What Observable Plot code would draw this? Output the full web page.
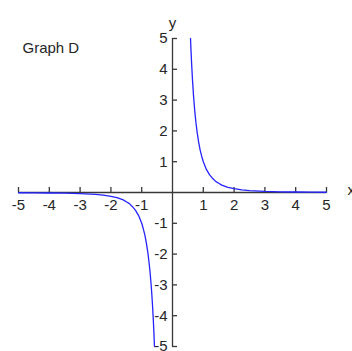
<!DOCTYPE html>
<html>
<head>
<meta charset="utf-8">
<script src="https://cdn.jsdelivr.net/npm/d3@7"></script>
<script src="https://cdn.jsdelivr.net/npm/@observablehq/plot@0.6"></script>
<style>
  body { margin: 0; background: #fff; }
</style>
</head>
<body>
<div id="chart"></div>
<script>
// Labels
const title = "Graph D";
const xName = "x";
const yName = "y";
const tickValues = [-5, -4, -3, -2, -1, 1, 2, 3, 4, 5];

// Right branch (x > 0)
const rightX = [0.585, 0.6, 0.62, 0.65, 0.68, 0.7, 0.73, 0.76, 0.8, 0.85, 0.9, 0.95, 1.0, 1.1, 1.2, 1.3, 1.4, 1.5, 1.6, 1.8, 2.0, 2.25, 2.5, 3.0, 3.5, 4.0, 4.5, 5.0];
const rightY = [5.0, 4.63, 4.2, 3.64, 3.18, 2.92, 2.57, 2.28, 1.95, 1.63, 1.37, 1.17, 1.0, 0.75, 0.58, 0.46, 0.36, 0.3, 0.24, 0.17, 0.125, 0.088, 0.064, 0.037, 0.023, 0.016, 0.011, 0.008];

// Left branch (x < 0)
const leftX = [-5.0, -4.5, -4.0, -3.5, -3.0, -2.5, -2.25, -2.0, -1.8, -1.6, -1.5, -1.4, -1.3, -1.2, -1.1, -1.0, -0.95, -0.9, -0.85, -0.8, -0.76, -0.73, -0.7, -0.68, -0.65, -0.62, -0.6, -0.585];
const leftY = [-0.008, -0.011, -0.016, -0.023, -0.037, -0.064, -0.088, -0.125, -0.17, -0.24, -0.3, -0.36, -0.46, -0.58, -0.75, -1.0, -1.17, -1.37, -1.63, -1.95, -2.28, -2.57, -2.92, -3.18, -3.64, -4.2, -4.63, -5.0];

const right = rightX.map((x, i) => ({x, y: rightY[i]}));
const left = leftX.map((x, i) => ({x, y: leftY[i]}));

const axisColor = "#383838";
const textColor = "#262626";
const curveColor = "#2424ff";
const font = "'Liberation Sans', Arial, sans-serif";

const chart = Plot.plot({
  width: 352,
  height: 351,
  marginLeft: 18,
  marginRight: 26,
  marginTop: 38,
  marginBottom: 5,
  style: {fontFamily: font, background: "white", overflow: "visible"},
  x: {domain: [-5, 5], axis: null},
  y: {domain: [-5, 5], axis: null},
  marks: [
    // axes through the origin
    Plot.ruleY([0], {x1: -5, x2: 5, stroke: axisColor, strokeWidth: 1.3}),
    Plot.ruleX([0], {y1: -5, y2: 5, stroke: axisColor, strokeWidth: 1.3}),
    // tick marks: up from the x axis, right from the y axis
    Plot.ruleX(tickValues, {x: d => d, y1: 0, y2: 0, insetTop: -5, stroke: axisColor, strokeWidth: 1.3}),
    Plot.ruleY(tickValues, {y: d => d, x1: 0, x2: 0, insetRight: -5, stroke: axisColor, strokeWidth: 1.3}),
    // tick labels
    Plot.text(tickValues, {x: d => d, y: 0, text: d => String(d), dy: 13, fontSize: 15, fill: textColor}),
    Plot.text(tickValues, {x: 0, y: d => d, text: d => String(d), textAnchor: "end", dx: -5, fontSize: 15, fill: textColor}),
    // curve
    Plot.line(left, {x: "x", y: "y", stroke: curveColor, strokeWidth: 1.3}),
    Plot.line(right, {x: "x", y: "y", stroke: curveColor, strokeWidth: 1.3}),
    // axis names and title
    Plot.text([title], {frameAnchor: "top-left", dx: 4, dy: 4, textAnchor: "start", fontSize: 15, fill: textColor}),
    Plot.text([xName], {frameAnchor: "right", y: 0, dx: 21, dy: -2, textAnchor: "start", fontSize: 15, fill: textColor}),
    Plot.text([yName], {frameAnchor: "top", x: 0, dy: -21, fontSize: 15, fill: textColor})
  ]
});

document.getElementById("chart").appendChild(chart);
</script>
</body>
</html>
